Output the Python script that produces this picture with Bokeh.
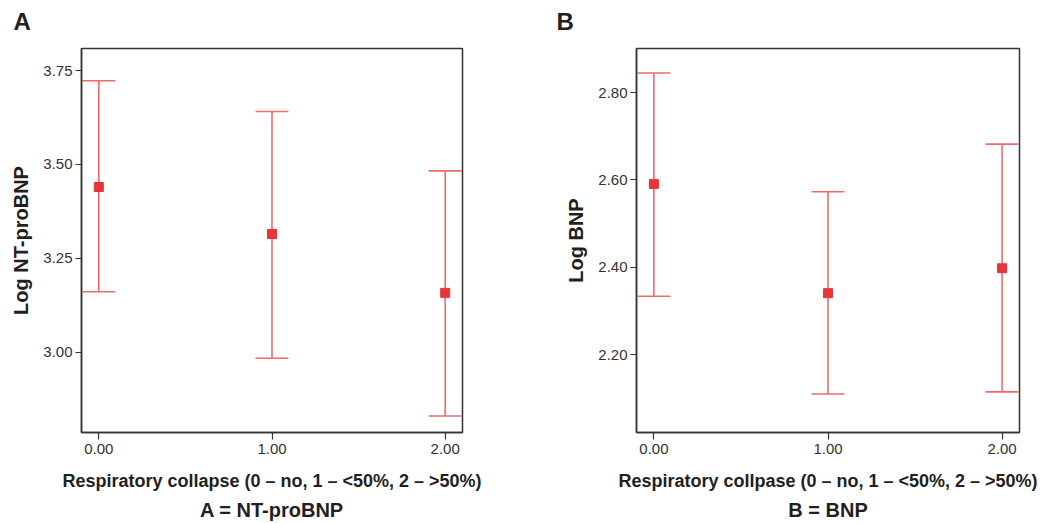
from bokeh.plotting import figure
from bokeh.layouts import row
from bokeh.models import FixedTicker, PrintfTickFormatter, Title, Whisker, ColumnDataSource, TeeHead, Range1d
from bokeh.embed import file_html
from bokeh.resources import INLINE

# ---- data ----
groups = [0, 1, 2]
x_tick_labels = ["0.00", "1.00", "2.00"]

ntprobnp_mean = [3.44, 3.315, 3.158]
ntprobnp_lower = [3.161, 2.984, 2.830]
ntprobnp_upper = [3.723, 3.641, 3.483]
ntprobnp_ticks = [3.00, 3.25, 3.50, 3.75]

bnp_mean = [2.591, 2.341, 2.398]
bnp_lower = [2.334, 2.110, 2.115]
bnp_upper = [2.845, 2.573, 2.682]
bnp_ticks = [2.20, 2.40, 2.60, 2.80]

FONT = "Liberation Sans"
LINE_C = "#ee6a6d"
MARK_C = "#e8353a"
TEXT_C = "#231f20"
TICK_C = "#333333"
X_RANGE = (-0.1, 2.1)


def panel(letter, ylab, xlab, sub, mean, lo, hi, yticks, yrange, width, bl, br, letter_off):
    p = figure(width=width, height=523, output_backend="svg", toolbar_location=None,
               x_range=Range1d(*X_RANGE), y_range=Range1d(*yrange),
               min_border_left=bl, min_border_right=br, min_border_top=48, min_border_bottom=10)
    p.grid.visible = False
    p.outline_line_color = "#333333"
    p.outline_line_width = 1.5
    p.outline_line_alpha = 1
    p.background_fill_color = "white"
    p.border_fill_color = "white"

    src = ColumnDataSource(dict(x=groups, m=mean, lo=lo, hi=hi))
    w = Whisker(source=src, base="x", lower="lo", upper="hi", dimension="height",
                line_color=LINE_C, line_width=1.6,
                lower_head=TeeHead(size=33, line_color=LINE_C, line_width=1.6),
                upper_head=TeeHead(size=33, line_color=LINE_C, line_width=1.6))
    p.add_layout(w)
    p.scatter("x", "m", source=src, marker="square", size=9, color=MARK_C)

    for ax in (p.xaxis[0], p.yaxis[0]):
        ax.axis_line_color = "#333333"
        ax.axis_line_width = 1.5
        ax.major_tick_line_color = "#333333"
        ax.major_tick_line_width = 1.2
        ax.minor_tick_line_color = None
        ax.major_tick_in = 0
        ax.major_label_text_font = FONT
        ax.major_label_text_font_size = "15px"
        ax.major_label_text_color = TICK_C
        ax.axis_label_text_font = FONT
        ax.axis_label_text_font_style = "bold"
        ax.axis_label_text_color = TEXT_C

    p.xaxis.ticker = FixedTicker(ticks=groups)
    p.xaxis.major_label_overrides = {g: t for g, t in zip(groups, x_tick_labels)}
    p.xaxis.major_tick_out = 7
    p.xaxis.major_label_standoff = 4
    p.xaxis.axis_label = xlab
    p.xaxis.axis_label_text_font_size = "18px"
    p.xaxis.axis_label_standoff = 14

    p.yaxis.ticker = FixedTicker(ticks=yticks)
    p.yaxis.formatter = PrintfTickFormatter(format="%.2f")
    p.yaxis.major_tick_out = 6
    p.yaxis.major_label_standoff = 3
    p.yaxis.axis_label = ylab
    p.yaxis.axis_label_text_font_size = "20px"
    p.yaxis.axis_label_standoff = 8

    p.add_layout(Title(text=sub, align="center", text_font=FONT, text_font_size="20px",
                       text_font_style="bold", text_color=TEXT_C, standoff=6), "below")

    p.title.text = letter
    p.title.align = "left"
    p.title.offset = letter_off
    p.title.text_font = FONT
    p.title.text_font_size = "24px"
    p.title.text_font_style = "bold"
    p.title.text_color = TEXT_C
    p.add_layout(Title(text=" ", text_font_size="7px", standoff=0), "above")
    return p


pa = panel("A", "Log NT-proBNP", "Respiratory collapse (0 \u2013 no, 1 \u2013 <50%, 2 \u2013 >50%)",
           "A = NT-proBNP", ntprobnp_mean, ntprobnp_lower, ntprobnp_upper, ntprobnp_ticks,
           (2.786, 3.809), 526, 81, 64, -68)
pb = panel("B", "Log BNP", "Respiratory collpase (0 \u2013 no, 1 \u2013 <50%, 2 \u2013 >50%)",
           "B = BNP", bnp_mean, bnp_lower, bnp_upper, bnp_ticks,
           (2.022, 2.901), 514, 110, 21, -80)

layout = row(pa, pb)
open("out.html", "w").write(file_html(layout, INLINE))
